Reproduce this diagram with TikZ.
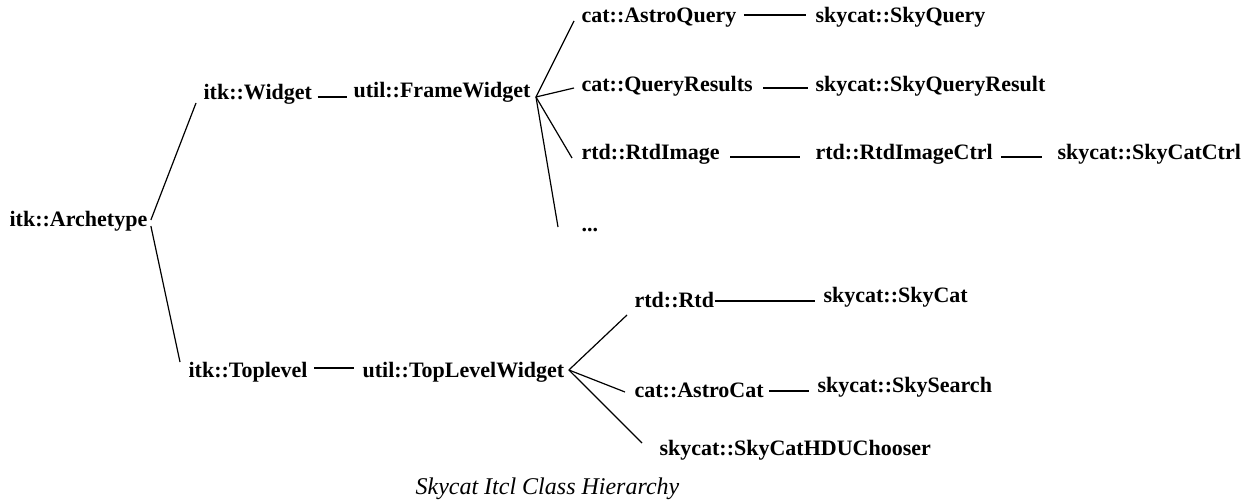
\documentclass[tikz,border=0pt]{standalone}
\usepackage{fontspec}
\setmainfont{Liberation Serif}
\usepackage{tikz}

\begin{document}
\begin{tikzpicture}[x=1pt,y=-1pt,line width=1.2pt,
	cls/.style={anchor=base west,inner sep=0pt,font=\fontsize{22}{26}\selectfont\bfseries},
	capt/.style={anchor=base west,inner sep=0pt,font=\fontsize{24}{28}\selectfont\itshape}]
			\useasboundingbox (0,0) rectangle (1246,502);
			\node[cls] (arch) at (9,227) {itk::Archetype};
			\node[cls] (wid) at (203,100) {itk::Widget};
			\node[cls] (frame) at (353,98) {util::FrameWidget};
			\node[cls] (top) at (188,377) {itk::Toplevel};
			\node[cls] (tlw) at (362,377) {util::TopLevelWidget};
			\node[cls] (aq) at (581,23) {cat::AstroQuery};
			\node[cls] (skq) at (815,23) {skycat::SkyQuery};
			\node[cls] (qr) at (581,92) {cat::QueryResults};
			\node[cls] (sqr) at (815,92) {skycat::SkyQueryResult};
			\node[cls] (ri) at (581,160) {rtd::RtdImage};
			\node[cls] (ric) at (815,160) {rtd::RtdImageCtrl};
			\node[cls] (scc) at (1057,160) {skycat::SkyCatCtrl};
			\node[cls] (dots) at (581,232) {...};
			\node[cls] (rtd) at (634,308) {rtd::Rtd};
			\node[cls] (sc) at (823,302) {skycat::SkyCat};
			\node[cls] (ac) at (634,397) {cat::AstroCat};
			\node[cls] (ss) at (817,392) {skycat::SkySearch};
			\node[cls] (hdu) at (659,455) {skycat::SkyCatHDUChooser};
			\node[capt] (cap) at (415,494) {Skycat Itcl Class Hierarchy};
			\draw ([shift={(3,-7)}]arch.base east) -- ([shift={(-7,3)}]wid.base west);
			\draw ([shift={(3,-1)}]arch.base east) -- ([shift={(-8,-15)}]top.base west);
			\draw ([shift={(5,-3)}]wid.base east) -- ([shift={(-6,-1)}]frame.base west);
			\draw ([shift={(6,-9)}]top.base east) -- ([shift={(-8,-9)}]tlw.base west);
			\draw ([shift={(5,-1)}]frame.base east) -- ([shift={(-7,-2)}]aq.base west);
			\draw ([shift={(5,-1)}]frame.base east) -- ([shift={(-7,-4)}]qr.base west);
			\draw ([shift={(5,-1)}]frame.base east) -- ([shift={(-9,-2)}]ri.base west);
			\draw ([shift={(5,-1)}]frame.base east) -- ([shift={(-23,-5)}]dots.base west);
			\draw ([shift={(4,-7)}]tlw.base east) -- ([shift={(-7,7)}]rtd.base west);
			\draw ([shift={(4,-7)}]tlw.base east) -- ([shift={(-9,-5)}]ac.base west);
			\draw ([shift={(4,-7)}]tlw.base east) -- ([shift={(-17,-12)}]hdu.base west);
			\draw ([shift={(7,-8)}]aq.base east) -- ([shift={(-9,-8)}]skq.base west);
			\draw ([shift={(10,-4)}]qr.base east) -- ([shift={(-7,-4)}]sqr.base west);
			\draw ([shift={(10,-3)}]ri.base east) -- ([shift={(-15,-3)}]ric.base west);
			\draw ([shift={(8,-3)}]ric.base east) -- ([shift={(-15,-3)}]scc.base west);
			\draw ([shift={(0,-7)}]rtd.base east) -- ([shift={(-8,-1)}]sc.base west);
			\draw ([shift={(5,-6)}]ac.base east) -- ([shift={(-8,-1)}]ss.base west);
		\end{tikzpicture}
\end{document}
